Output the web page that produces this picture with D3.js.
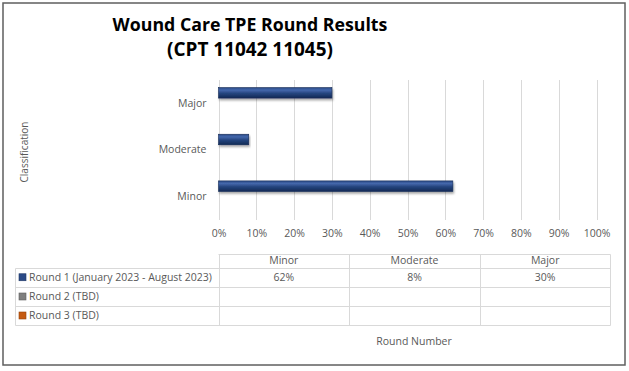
<!DOCTYPE html>
<html>
<head>
<meta charset="utf-8">
<script src="https://cdn.jsdelivr.net/npm/d3@7"></script>
<style>
  body { margin: 0; background: #fff; }
  text { font-family: "Open Sans", "Noto Sans", sans-serif; }
</style>
</head>
<body>
<script>
// chart values
var categories = ["Minor", "Moderate", "Major"];
var seriesNames = ["Round 1 (January 2023 - August 2023)", "Round 2 (TBD)", "Round 3 (TBD)"];
var round1 = [0.62, 0.08, 0.30];
var round2 = [null, null, null];
var round3 = [null, null, null];
var seriesColors = ["#2b4a86", "#7f7f7f", "#c55a11"];
var tickValues = [0, 0.1, 0.2, 0.3, 0.4, 0.5, 0.6, 0.7, 0.8, 0.9, 1];
var titleLines = ["Wound Care TPE Round Results", "(CPT 11042 11045)"];

var allSeries = [round1, round2, round3];

var W = 629, H = 371;
var svg = d3.select("body").append("svg")
  .attr("width", W).attr("height", H);

var defs = svg.append("defs");
var grad = defs.append("linearGradient").attr("id", "barGrad")
  .attr("x1", 0).attr("y1", 0).attr("x2", 0).attr("y2", 1);
grad.append("stop").attr("offset", "0%").attr("stop-color", "#2a4a88");
grad.append("stop").attr("offset", "25%").attr("stop-color", "#4467ab");
grad.append("stop").attr("offset", "55%").attr("stop-color", "#25457f");
grad.append("stop").attr("offset", "100%").attr("stop-color", "#132a55");
var shadow = defs.append("filter").attr("id", "shadow")
  .attr("x", "-5%").attr("y", "-30%").attr("width", "110%").attr("height", "190%");
shadow.append("feDropShadow").attr("dx", 1).attr("dy", 2)
  .attr("stdDeviation", 1.2).attr("flood-color", "#000").attr("flood-opacity", 0.35);

// outer border
svg.append("rect")
  .attr("x", 3).attr("y", 3).attr("width", 622).attr("height", 362)
  .attr("fill", "#fff").attr("stroke", "#5f5f5f").attr("stroke-width", 1.5);

// title, fitted to the width seen in the picture
var titleWidths = [275, 166];
titleLines.forEach(function(line, i) {
  var t = svg.append("text")
    .attr("x", 250).attr("y", 31 + i * 25)
    .attr("text-anchor", "middle")
    .attr("font-size", 18).attr("font-weight", "bold")
    .attr("fill", "#000")
    .text(line);
  var w = t.node().getComputedTextLength();
  t.attr("font-size", 18 * titleWidths[i] / w);
});

// scales
var x = d3.scaleLinear().domain([0, 1]).range([218.5, 596.5]);
var y = d3.scaleBand().domain(categories.slice().reverse()).range([80, 220]);
var ySub = d3.scaleBand().domain(seriesNames).range([0, y.bandwidth()])
  .paddingInner(0).paddingOuter(0.72);

// gridlines
svg.append("g").selectAll("line")
  .data(tickValues)
  .join("line")
  .attr("x1", function(d) { return Math.round(x(d)) + 0.5; })
  .attr("x2", function(d) { return Math.round(x(d)) + 0.5; })
  .attr("y1", 80).attr("y2", 220)
  .attr("stroke", "#d9d9d9").attr("stroke-width", 1);

// x axis labels
var xAxis = svg.append("g")
  .attr("transform", "translate(0,220)")
  .call(d3.axisBottom(x).tickValues(tickValues).tickFormat(d3.format(".0%")).tickSize(0).tickPadding(10));
xAxis.select(".domain").remove();
xAxis.selectAll("text")
  .attr("font-family", "Open Sans, Noto Sans, sans-serif")
  .attr("font-size", 10.5).attr("fill", "#595959");

// y axis labels
var yAxis = svg.append("g")
  .attr("transform", "translate(218.5,0)")
  .call(d3.axisLeft(y).tickSize(0).tickPadding(12));
yAxis.select(".domain").remove();
yAxis.selectAll("text")
  .attr("font-family", "Open Sans, Noto Sans, sans-serif")
  .attr("font-size", 10.5).attr("fill", "#595959");

// y title
svg.append("text")
  .attr("transform", "translate(28,152) rotate(-90)")
  .attr("text-anchor", "middle")
  .attr("font-size", 10).attr("fill", "#595959")
  .text("Classification");

// bars
seriesNames.forEach(function(name, si) {
  var vals = allSeries[si];
  svg.append("g").selectAll("rect")
    .data(categories.map(function(c, ci) { return { cat: c, v: vals[ci] }; })
      .filter(function(d) { return d.v != null; }))
    .join("rect")
    .attr("x", x(0))
    .attr("y", function(d) { return y(d.cat) + ySub(name); })
    .attr("width", function(d) { return x(d.v) - x(0); })
    .attr("height", ySub.bandwidth())
    .attr("fill", si === 0 ? "url(#barGrad)" : seriesColors[si])
    .attr("stroke", "#142a55").attr("stroke-width", 0.6)
    .attr("filter", "url(#shadow)");
});

// data table
var colX = d3.scaleBand().domain(categories).range([218.5, 610.5]);
var rowTops = [253.5, 267.5, 287, 306, 325];
var tableLeft = 15.5;
var tg = svg.append("g").attr("stroke", "#d9d9d9").attr("stroke-width", 1).attr("fill", "none");
// horizontal lines
rowTops.forEach(function(ry, i) {
  tg.append("line")
    .attr("x1", i === 0 ? colX.range()[0] : tableLeft).attr("x2", colX.range()[1])
    .attr("y1", Math.round(ry) + 0.5).attr("y2", Math.round(ry) + 0.5);
});
// vertical lines
tg.append("line").attr("x1", tableLeft).attr("x2", tableLeft)
  .attr("y1", Math.round(rowTops[1]) + 0.5).attr("y2", Math.round(rowTops[4]) + 0.5);
categories.forEach(function(c) {
  tg.append("line").attr("x1", Math.round(colX(c)) + 0.5).attr("x2", Math.round(colX(c)) + 0.5)
    .attr("y1", Math.round(rowTops[0]) + 0.5).attr("y2", Math.round(rowTops[4]) + 0.5);
});
tg.append("line").attr("x1", colX.range()[1]).attr("x2", colX.range()[1])
  .attr("y1", Math.round(rowTops[0]) + 0.5).attr("y2", Math.round(rowTops[4]) + 0.5);

// header row
svg.append("g").selectAll("text")
  .data(categories)
  .join("text")
  .attr("x", function(d) { return colX(d) + colX.bandwidth() / 2; })
  .attr("y", 264)
  .attr("text-anchor", "middle")
  .attr("font-size", 10.5).attr("fill", "#595959")
  .text(function(d) { return d; });

// series rows
seriesNames.forEach(function(name, si) {
  var top = rowTops[si + 1], bot = rowTops[si + 2];
  var mid = (top + bot) / 2;
  svg.append("rect")
    .attr("x", 19).attr("y", mid - 3.5).attr("width", 7).attr("height", 7)
    .attr("fill", seriesColors[si]).attr("stroke", d3.color(seriesColors[si]).darker(0.8)).attr("stroke-width", 0.6);
  svg.append("text")
    .attr("x", 29).attr("y", mid + 3.5)
    .attr("font-size", 10.5).attr("fill", "#595959")
    .text(name);
  svg.append("g").selectAll("text")
    .data(categories.map(function(c, ci) { return { cat: c, v: allSeries[si][ci] }; })
      .filter(function(d) { return d.v != null; }))
    .join("text")
    .attr("x", function(d) { return colX(d.cat) + colX.bandwidth() / 2; })
    .attr("y", mid + 3.5)
    .attr("text-anchor", "middle")
    .attr("font-size", 10.5).attr("fill", "#595959")
    .text(function(d) { return d3.format(".0%")(d.v); });
});

// x title
svg.append("text")
  .attr("x", 414).attr("y", 345)
  .attr("text-anchor", "middle")
  .attr("font-size", 10.5).attr("fill", "#595959")
  .text("Round Number");
</script>
</body>
</html>
